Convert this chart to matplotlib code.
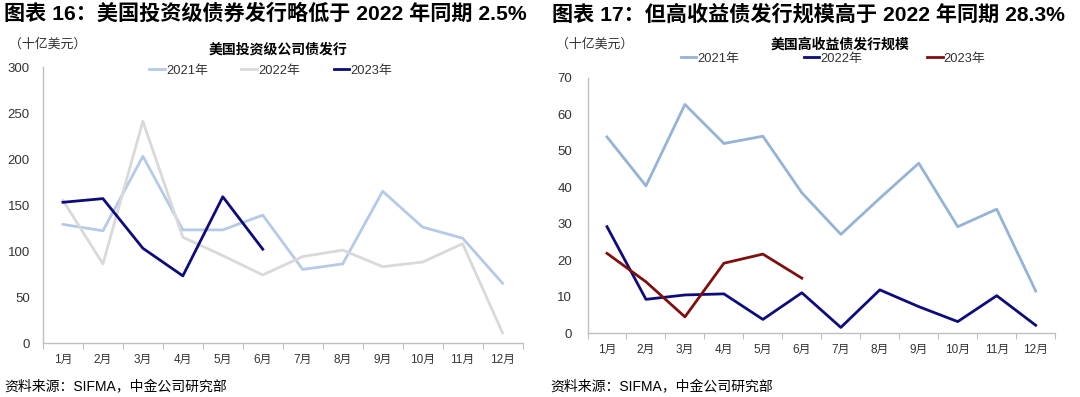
import numpy as np
import matplotlib
matplotlib.use("Agg")
import matplotlib.pyplot as plt

plt.rcParams['font.family'] = ['Liberation Sans', 'Noto Sans CJK SC', 'DejaVu Sans']

months = ['1月', '2月', '3月', '4月', '5月', '6月', '7月', '8月', '9月', '10月', '11月', '12月']
series_names = ['2021年', '2022年', '2023年']

# investment grade issuance, bn USD
ig_2021 = [129, 122, 203, 123, 123, 139, 80, 86, 165, 126, 114, 65]
ig_2022 = [155, 86, 241, 115, 95, 74, 94, 101, 83, 88, 108, 11]
ig_2023 = [153, 157, 103, 73, 159, 102]

# high yield issuance, bn USD
hy_2021 = [53.8, 40.4, 62.7, 52.0, 54.0, 38.5, 27.1, 37.0, 46.6, 29.2, 34.0, 11.6]
hy_2022 = [29.2, 9.3, 10.5, 10.8, 3.8, 11.1, 1.6, 11.9, 7.3, 3.2, 10.3, 2.2]
hy_2023 = [21.9, 14.1, 4.5, 19.2, 21.7, 15.1]

fig = plt.figure(figsize=(10.8, 3.97), dpi=100)

ax1 = fig.add_axes([0.0398, 0.136, 0.444, 0.695])
ax2 = fig.add_axes([0.544, 0.1605, 0.433, 0.6435])

txt = '#333333'


def style_axes(ax, ymax, step, ypad):
	ax.set_xlim(-0.5, 11.5)
	ax.set_ylim(0, ymax)
	ax.set_yticks(np.arange(0, ymax + step / 2, step))
	ax.set_xticks(range(12))
	ax.set_xticklabels(months)
	ax.set_xticks(np.arange(-0.5, 12, 1), minor=True)
	ax.tick_params(axis='x', which='major', length=0, pad=8, labelsize=8.5, labelcolor=txt)
	ax.tick_params(axis='x', which='minor', length=4, color='#bfbfbf', width=0.8)
	ax.tick_params(axis='y', length=0, pad=ypad, labelsize=9.5, labelcolor=txt)
	for s in ['top', 'right']:
		ax.spines[s].set_visible(False)
	for s in ['left', 'bottom']:
		ax.spines[s].set_color('#bfbfbf')
		ax.spines[s].set_linewidth(1.0)


x_full = np.arange(12)
x_half = np.arange(len(ig_2023))

ax1.plot(x_full, ig_2021, color='#b4cae6', lw=2.0, label=series_names[0])
ax1.plot(x_full, ig_2022, color='#d9d9d9', lw=2.0, label=series_names[1])
ax1.plot(x_half, ig_2023, color='#0c0c7c', lw=2.0, label=series_names[2])
style_axes(ax1, 300, 50, 9.5)
ax1.legend(loc='center', bbox_to_anchor=(0.475, 0.986), ncol=3, frameon=False,
           fontsize=9.3, handlelength=1.2, handletextpad=0.1, columnspacing=2.6,
           labelcolor=txt)

ax2.plot(x_full, hy_2021, color='#95b3d7', lw=2.0, label=series_names[0])
ax2.plot(x_full, hy_2022, color='#0c0c7c', lw=2.0, label=series_names[1])
ax2.plot(x_half, hy_2023, color='#7f0e0e', lw=2.0, label=series_names[2])
style_axes(ax2, 70, 10, 11)
ax2.legend(loc='center', bbox_to_anchor=(0.525, 1.074), ncol=3, frameon=False,
           fontsize=9.3, handlelength=1.2, handletextpad=0.1, columnspacing=5.0,
           labelcolor=txt)

# titles and notes
fig.text(0.004, 0.965, '图表 16：美国投资级债券发行略低于 2022 年同期 2.5%',
         fontsize=15.2, fontweight='bold', va='center', ha='left', color='black')
fig.text(0.511, 0.965, '图表 17：但高收益债发行规模高于 2022 年同期 28.3%',
         fontsize=15.2, fontweight='bold', va='center', ha='left', color='black')

fig.text(0.008, 0.887, '（十亿美元）', fontsize=9.3, va='center', ha='left', color=txt)
fig.text(0.515, 0.887, '（十亿美元）', fontsize=9.3, va='center', ha='left', color=txt)

fig.text(0.257, 0.875, '美国投资级公司债发行', fontsize=10, fontweight='bold',
         va='center', ha='center', color='black')
fig.text(0.778, 0.887, '美国高收益债发行规模', fontsize=10, fontweight='bold',
         va='center', ha='center', color='black')

fig.text(0.004, 0.025, '资料来源：SIFMA，中金公司研究部', fontsize=10,
         va='center', ha='left', color='black')
fig.text(0.51, 0.025, '资料来源：SIFMA，中金公司研究部', fontsize=10,
         va='center', ha='left', color='black')

fig.savefig('out.png', dpi=100, facecolor='white')
